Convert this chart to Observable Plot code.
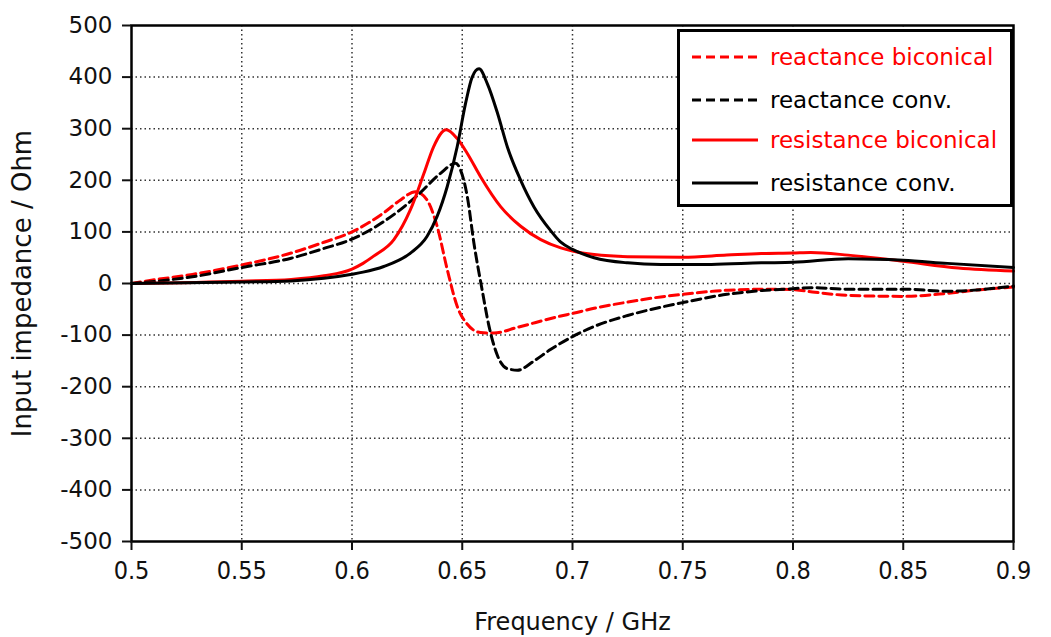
<!DOCTYPE html>
<html>
<head>
<meta charset="utf-8">
<script src="https://cdn.jsdelivr.net/npm/d3@7"></script>
<script src="https://cdn.jsdelivr.net/npm/@observablehq/plot@0.6"></script>
<style>
  html, body { margin: 0; padding: 0; background: #fff; }
  #wrap { position: relative; width: 1051px; height: 637px; }
  #legend { position: absolute; left: 677px; top: 29px; width: 330px; height: 172px;
    border: 3px solid #000; background: #fff; font-family: "DejaVu Sans", Verdana, sans-serif; font-size: 23px; }
  .row { position: absolute; left: 10px; height: 30px; display: flex; align-items: center; white-space: nowrap; }
  .row svg { width: 70px; height: 10px; margin-right: 10px; }
</style>
</head>
<body>
<div id="wrap"><div id="legend"></div></div>
<script>
// ---- data ----
const seriesNames = ["reactance biconical", "reactance conv.", "resistance biconical", "resistance conv."];
const seriesColors = ["#ff0000", "#000000", "#ff0000", "#000000"];
const seriesDash = ["9,5", "9,5", null, null];

const fReactBic = [0.5, 0.507, 0.5276, 0.55, 0.5724, 0.5873, 0.6, 0.6144, 0.622, 0.6288, 0.634, 0.6386, 0.6432, 0.6477, 0.6523, 0.6583, 0.6644, 0.675, 0.6947, 0.7, 0.7098, 0.725, 0.74, 0.75, 0.7705, 0.79, 0.8, 0.81, 0.825, 0.85, 0.87, 0.885, 0.9];
const vReactBic = [0, 5, 17.6, 36, 59, 80, 100, 137, 162, 178, 162, 111, 27, -44, -79, -95, -96, -85, -63, -58, -48, -36, -26, -21, -13, -11, -12, -17, -23, -25, -19, -12, -7];

const fReactConv = [0.5, 0.5276, 0.55, 0.5724, 0.5873, 0.6, 0.6144, 0.6295, 0.64, 0.647, 0.6492, 0.6523, 0.6553, 0.659, 0.6621, 0.666, 0.6705, 0.675, 0.6826, 0.69, 0.7, 0.71, 0.725, 0.74, 0.75, 0.77, 0.785, 0.8, 0.808, 0.825, 0.85, 0.87, 0.9];
const vReactConv = [0, 13, 31, 49, 68, 86, 120, 170, 213, 233, 220, 168, 78, -12, -82, -140, -165, -168, -150, -128, -103, -83, -62, -46, -37, -21, -14, -10, -8, -11, -11, -15, -5];

const fResBic = [0.5, 0.55, 0.5724, 0.5873, 0.6, 0.605, 0.6098, 0.619, 0.6265, 0.6326, 0.637, 0.6427, 0.6477, 0.6523, 0.6583, 0.6674, 0.6765, 0.6856, 0.6947, 0.7, 0.7098, 0.725, 0.75, 0.77, 0.7856, 0.8, 0.808, 0.825, 0.85, 0.875, 0.9];
const vResBic = [0, 4.6, 8, 15, 28, 39, 53, 85, 143, 213, 265, 298, 281, 252, 207, 149, 111, 85, 69, 63, 56, 52, 51, 55, 58, 59, 60, 55, 43, 30, 24];

const fResConv = [0.5, 0.55, 0.5724, 0.5873, 0.6, 0.605, 0.6144, 0.6265, 0.634, 0.6386, 0.6432, 0.6477, 0.6515, 0.6545, 0.6576, 0.6614, 0.666, 0.6705, 0.6765, 0.6826, 0.69, 0.6947, 0.7, 0.7098, 0.725, 0.74, 0.763, 0.7856, 0.8, 0.825, 0.85, 0.87, 0.9];
const vResConv = [0, 3, 5, 10, 18, 22, 33, 59, 91, 130, 188, 265, 349, 400, 416, 387, 330, 264, 200, 148, 103, 80, 66, 50, 40, 37, 37, 40, 41, 48, 45, 39, 31];

const xTicks = [0.5, 0.55, 0.6, 0.65, 0.7, 0.75, 0.8, 0.85, 0.9];
const yTicks = [-500, -400, -300, -200, -100, 0, 100, 200, 300, 400, 500];

// ---- build table ----
const fs = [fReactBic, fReactConv, fResBic, fResConv];
const vs = [vReactBic, vReactConv, vResBic, vResConv];
const rows = [];
fs.forEach((f, i) => f.forEach((x, j) => rows.push({f: x, v: vs[i][j], s: seriesNames[i]})));

const lineMarks = seriesNames.map((name, i) =>
  Plot.line(rows.filter(r => r.s === name), {
    x: "f", y: "v", stroke: seriesColors[i], strokeWidth: 3,
    strokeDasharray: seriesDash[i] || undefined, curve: "monotone-x"
  })
);

const sans = "DejaVu Sans, Verdana, sans-serif";
const condensed = "DejaVu Sans Condensed, DejaVu Sans, sans-serif";

const chart = Plot.plot({
  width: 1051,
  height: 637,
  marginLeft: 131,
  marginRight: 38,
  marginTop: 25,
  marginBottom: 96,
  style: { fontFamily: sans, fontSize: "23px", color: "#111", background: "#fff" },
  x: { domain: [0.5, 0.9] },
  y: { domain: [-500, 500] },
  marks: [
    Plot.gridX(xTicks.slice(1, -1), { stroke: "#333", strokeOpacity: 1, strokeWidth: 1.5, strokeDasharray: "1.5,3" }),
    Plot.gridY(yTicks.slice(1, -1), { stroke: "#333", strokeOpacity: 1, strokeWidth: 1.5, strokeDasharray: "1.5,3" }),
    ...lineMarks,
    Plot.frame({ stroke: "#000", strokeWidth: 2.5 }),
    Plot.axisY(yTicks, {
      tickSize: 9, tickPadding: 10, strokeWidth: 2, tickFormat: d => String(d),
      fontSize: 23, fontFamily: sans,
      label: null
    }),
    Plot.axisY({
      ticks: [], tickSize: 0, label: "Input impedance / Ohm", labelAnchor: "center", labelArrow: "none",
      labelOffset: 119, fontSize: 26, fontFamily: sans
    }),
    Plot.axisX(xTicks, {
      tickSize: 9, tickPadding: 11, strokeWidth: 2, tickFormat: d => String(d),
      fontSize: 25, fontFamily: condensed,
      label: null
    }),
    Plot.axisX({
      ticks: [], tickSize: 0, label: "Frequency / GHz", labelAnchor: "center", labelArrow: "none",
      labelOffset: 88, fontSize: 24, fontFamily: sans
    })
  ]
});
document.getElementById("wrap").prepend(chart);

// ---- legend ----
const legend = document.getElementById("legend");
const rowTops = [10, 53, 93, 136];
seriesNames.forEach((name, i) => {
  const r = document.createElement("div");
  r.className = "row";
  r.style.top = rowTops[i] + "px";
  r.innerHTML = `<svg viewBox="0 0 70 10"><line x1="2" x2="68" y1="5" y2="5" stroke="${seriesColors[i]}" stroke-width="3" ${seriesDash[i] ? `stroke-dasharray="${seriesDash[i]}"` : ""}/></svg><span style="color:${seriesColors[i]}">${name}</span>`;
  legend.appendChild(r);
});
</script>
</body>
</html>
